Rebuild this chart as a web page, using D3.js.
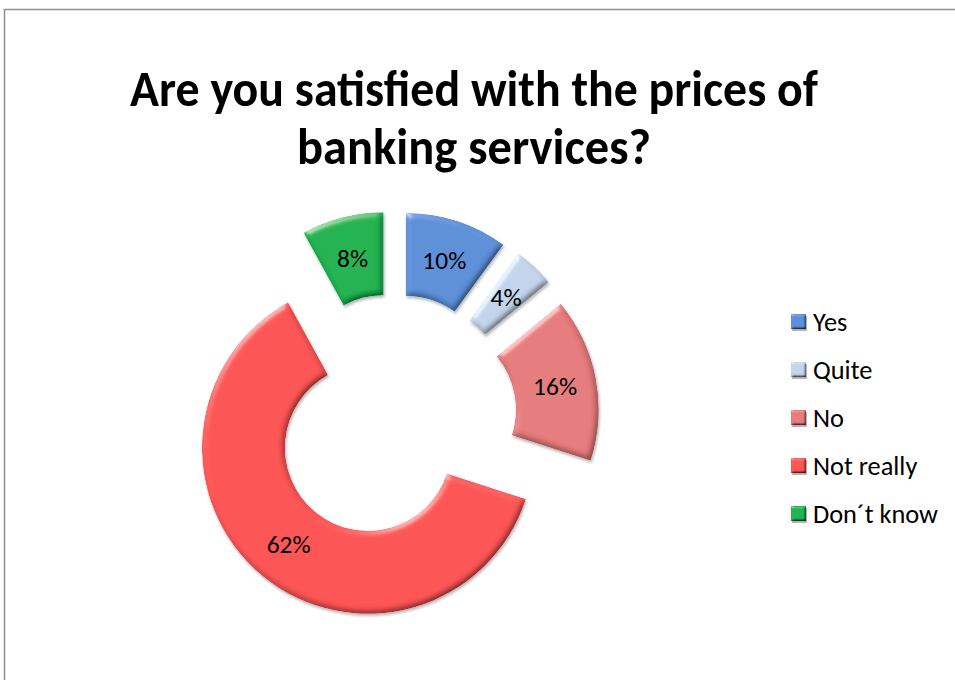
<!DOCTYPE html>
<html>
<head>
<meta charset="utf-8">
<script src="https://cdn.jsdelivr.net/npm/d3@7/dist/d3.min.js"></script>
<style>
  html, body { margin: 0; padding: 0; background: #ffffff; }
  svg { display: block; }
</style>
</head>
<body>
<script>
// Survey answers
const categories = ["Yes", "Quite", "No", "Not really", "Don´t know"];
const values = [10, 4, 16, 62, 8];
const colors = ["#5b8fd8", "#c3d3e9", "#e57a7b", "#fc5454", "#1db251"];
const titleLines = ["Are you satisfied with the prices of", "banking services?"];

const W = 955, H = 680;
const FONT = "Carlito, Calibri, Lato, 'Open Sans', sans-serif";

const svg = d3.select("body").append("svg")
  .attr("width", W).attr("height", H);

// Bevel + soft shadow filter for the slices
const defs = svg.append("defs");
function bevel(id, blur, scale, specK) {
  const f = defs.append("filter").attr("id", id)
    .attr("x", "-20%").attr("y", "-20%").attr("width", "140%").attr("height", "140%");
  f.append("feGaussianBlur").attr("in", "SourceAlpha").attr("stdDeviation", blur).attr("result", "blur");
  const el = 50;
  const d = f.append("feDiffuseLighting").attr("in", "blur").attr("surfaceScale", scale)
    .attr("diffuseConstant", 1 / Math.sin(el * Math.PI / 180)).attr("lighting-color", "#ffffff").attr("result", "diff");
  d.append("feDistantLight").attr("azimuth", 235).attr("elevation", el);
  f.append("feComposite").attr("in", "SourceGraphic").attr("in2", "diff")
    .attr("operator", "arithmetic").attr("k1", 1).attr("k2", 0).attr("k3", 0).attr("k4", 0)
    .attr("result", "shaded");
  const s = f.append("feSpecularLighting").attr("in", "blur").attr("surfaceScale", scale)
    .attr("specularConstant", 0.7).attr("specularExponent", 22)
    .attr("lighting-color", "#ffffff").attr("result", "spec");
  s.append("feDistantLight").attr("azimuth", 235).attr("elevation", 22);
  f.append("feComposite").attr("in", "spec").attr("in2", "SourceAlpha")
    .attr("operator", "in").attr("result", "specIn");
  f.append("feComposite").attr("in", "shaded").attr("in2", "specIn")
    .attr("operator", "arithmetic").attr("k1", 0).attr("k2", 1).attr("k3", specK).attr("k4", 0)
    .attr("result", "lit");
  f.append("feComposite").attr("in", "lit").attr("in2", "SourceAlpha").attr("operator", "in")
    .attr("result", "litIn");
  // drop shadow
  f.append("feGaussianBlur").attr("in", "SourceAlpha").attr("stdDeviation", blur * 0.6).attr("result", "sb");
  f.append("feOffset").attr("in", "sb").attr("dx", 1).attr("dy", 2).attr("result", "so");
  f.append("feComponentTransfer").attr("in", "so").attr("result", "sh")
    .append("feFuncA").attr("type", "linear").attr("slope", 0.3);
  const m = f.append("feMerge");
  m.append("feMergeNode").attr("in", "sh");
  m.append("feMergeNode").attr("in", "litIn");
}
bevel("bevel", 3, 3, 0.5);
bevel("bevelSmall", 1.2, 2, 0.4);

// Chart frame
svg.append("rect")
  .attr("x", 4.5).attr("y", 9.5).attr("width", W + 20).attr("height", H + 20)
  .attr("fill", "none").attr("stroke", "#8f8f8f").attr("stroke-width", 1.5);

// Helper: size text so that a sample string spans a given width
function fitSize(sample, targetWidth, weight) {
  const t = svg.append("text").attr("font-family", FONT).attr("font-weight", weight)
    .attr("font-size", 100).text(sample);
  const w = t.node().getComputedTextLength();
  t.remove();
  return 100 * targetWidth / w;
}

// Title: slightly taller glyphs, each line held to its measured width
const titleWidths = [688, 354];
const titleSize = fitSize(titleLines[0], 688, "bold") * 1.06;
svg.append("g").selectAll("text").data(titleLines).join("text")
  .attr("x", 474)
  .attr("y", (d, i) => 106 + i * 58)
  .attr("text-anchor", "middle")
  .attr("font-family", FONT).attr("font-weight", "bold")
  .attr("font-size", titleSize)
  .attr("textLength", (d, i) => titleWidths[i])
  .attr("lengthAdjust", "spacingAndGlyphs")
  .attr("fill", "#000")
  .text(d => d);

// Exploded doughnut
const cx = 393.5, cy = 417, rOuter = 166, rInner = 83, explode = 40;
const pie = d3.pie().sort(null).value(d => d.value);
const arc = d3.arc().innerRadius(rInner).outerRadius(rOuter);
const data = categories.map((c, i) => ({ name: c, value: values[i], color: colors[i] }));
const arcs = pie(data);

const g = svg.append("g").attr("transform", `translate(${cx},${cy})`);
const slice = g.selectAll("g.slice").data(arcs).join("g")
  .attr("class", "slice")
  .attr("transform", d => {
    const a = (d.startAngle + d.endAngle) / 2;
    return `translate(${Math.sin(a) * explode},${-Math.cos(a) * explode})`;
  });
slice.append("path")
  .attr("d", arc)
  .attr("fill", d => d.data.color)
  .attr("filter", "url(#bevel)");

const labelSize = fitSize("10%", 44, "normal");
slice.append("text")
  .attr("transform", d => `translate(${arc.centroid(d)})`)
  .attr("text-anchor", "middle")
  .attr("dy", "0.35em")
  .attr("font-family", FONT)
  .attr("font-size", labelSize)
  .attr("fill", "#000")
  .text(d => d.data.value + "%");

// Legend
const legendSize = fitSize("Don´t know", 125, "normal");
const legend = svg.append("g").attr("transform", "translate(791,314)");
const item = legend.selectAll("g").data(data).join("g")
  .attr("transform", (d, i) => `translate(0,${i * 48})`);
item.append("rect")
  .attr("width", 15).attr("height", 15)
  .attr("fill", d => d.color)
  .attr("filter", "url(#bevelSmall)");
item.append("text")
  .attr("x", 22).attr("y", 7.5).attr("dy", "0.35em")
  .attr("font-family", FONT).attr("font-size", legendSize)
  .attr("fill", "#000")
  .text(d => d.name);
</script>
</body>
</html>
